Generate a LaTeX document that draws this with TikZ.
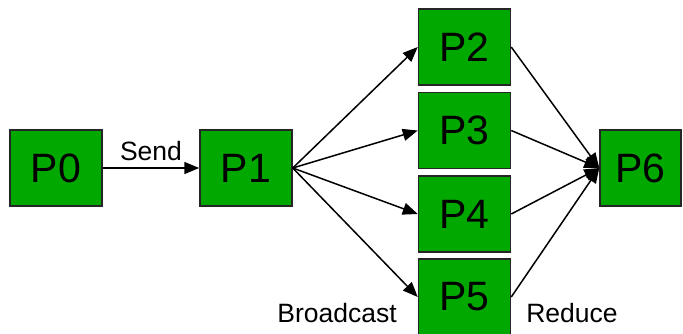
\documentclass[tikz,border=0pt]{standalone}
\usepackage{fontspec}
\setmainfont{Liberation Sans}
\usetikzlibrary{arrows.meta}
\definecolor{boxgreen}{HTML}{00A800}
\tikzset{
  proc/.style={draw=black!85, line width=1.5pt, fill=boxgreen, minimum width=92pt, minimum height=76pt, inner sep=0pt, font=\fontsize{41}{41}\selectfont},
  conn/.style={line width=1.5pt, -{Triangle[length=15pt,width=12pt]}},
  lbl/.style={font=\fontsize{26.5}{26.5}\selectfont, inner sep=0pt}
}
\begin{document}
\begin{tikzpicture}[x=1pt,y=-1pt]
\useasboundingbox (0,0) rectangle (683,333);
\node[proc] (p0) at (56,168) {P0};
\node[proc] (p1) at (246,168) {P1};
\node[proc] (p2) at (464.5,47) {P2};
\node[proc] (p3) at (464.5,130.5) {P3};
\node[proc] (p4) at (464.5,214) {P4};
\node[proc] (p5) at (464.5,297) {P5};
\node[proc, minimum width=81pt] (p6) at (640.5,168) {P6};
\draw[conn] (p0.east) -- node[lbl, above=6pt] (send) {Send} (p1.west);
\foreach \t in {p2,p3,p4,p5}{
  \draw[conn] (p1.east) -- (\t.west);
  \draw[conn] (\t.east) -- (p6.west);
}
\node[lbl] (bc) at (337,313) {Broadcast};
\node[lbl] (rd) at (572,313) {Reduce};
\end{tikzpicture}
\end{document}
